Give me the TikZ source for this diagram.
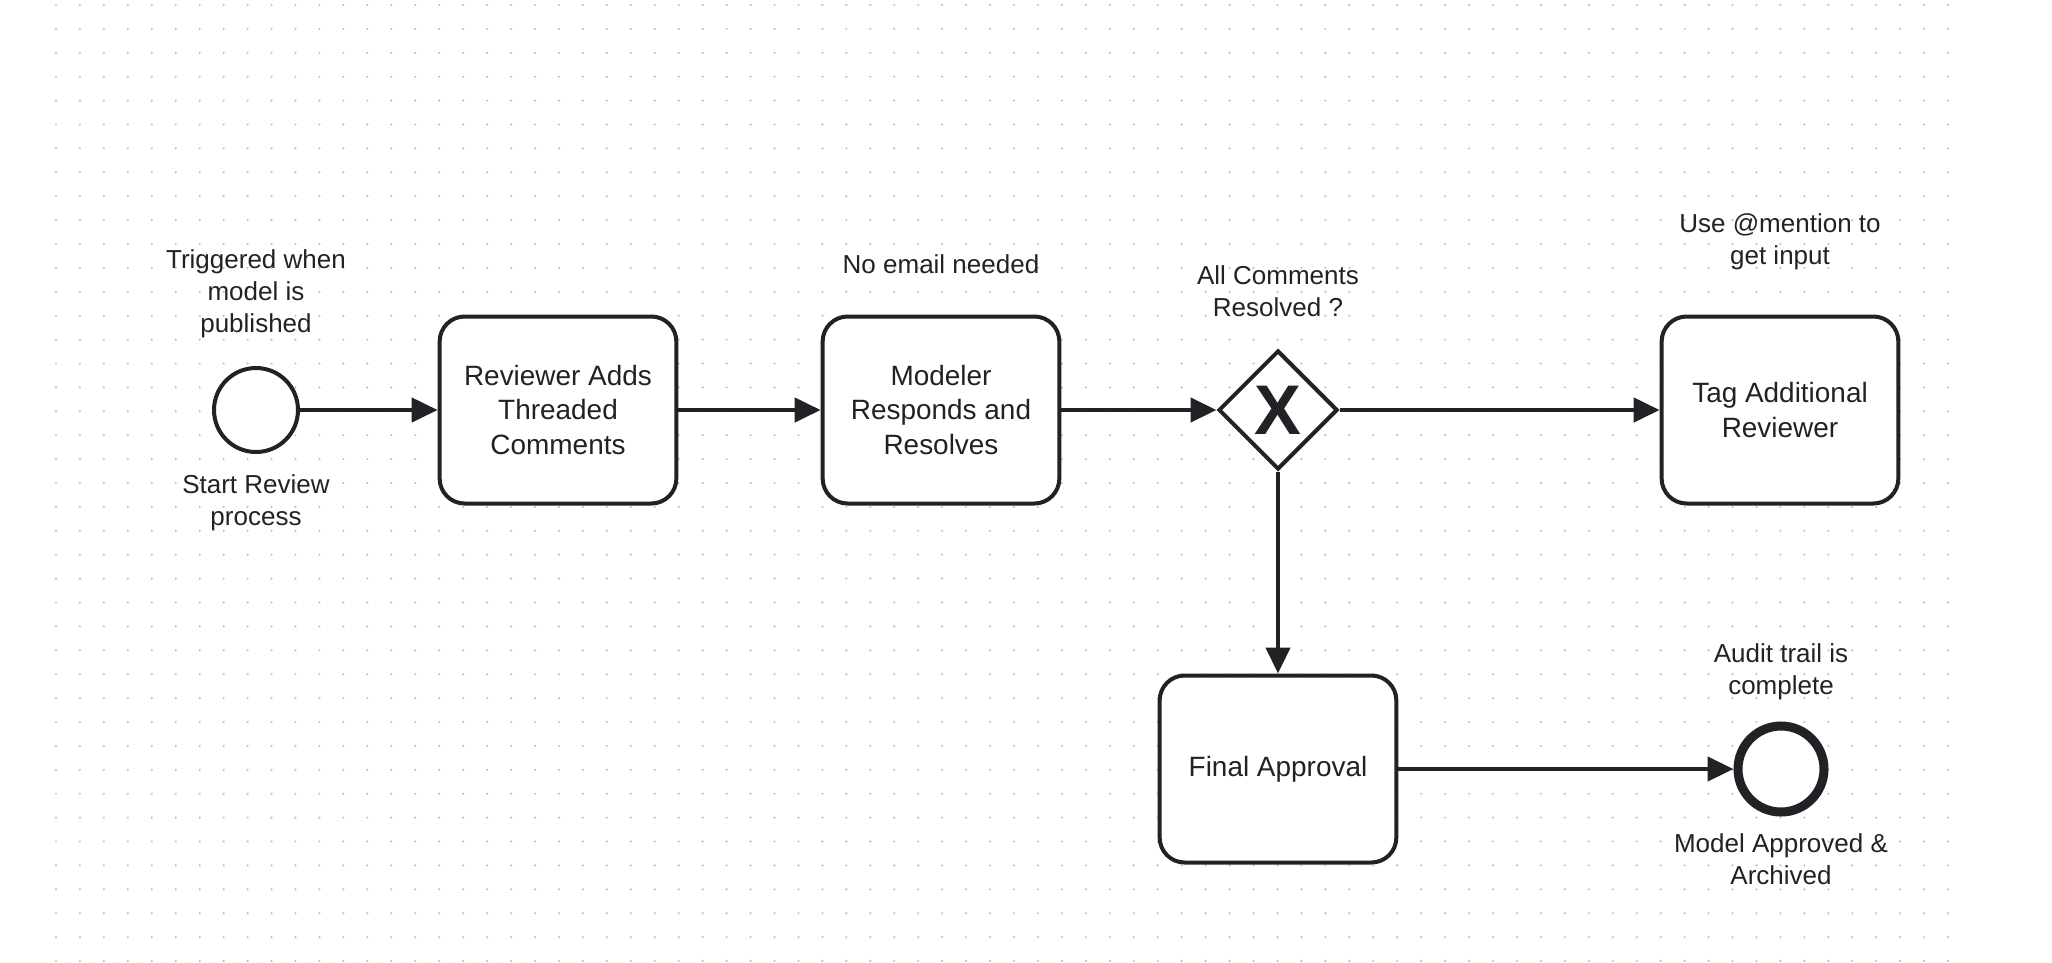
\documentclass[tikz,border=0pt]{standalone}
\usepackage{fontspec}
\setmainfont{Liberation Sans}
\usepackage{tikz}
\usetikzlibrary{shapes.geometric, arrows.meta}
\definecolor{ink}{RGB}{34,34,38}
\definecolor{dotgray}{RGB}{192,192,197}

\begin{document}
\begin{tikzpicture}[node distance=1cm, auto]

\tikzstyle{event} = [circle, minimum size=1.68cm, inner sep=0pt, draw=ink, line width=0.08cm, fill=white]
\tikzstyle{endevent} = [event, minimum size=1.72cm, line width=0.18cm]
\tikzstyle{task} = [rectangle, rounded corners=0.5cm, minimum width=4.72cm, minimum height=3.74cm, text centered, draw=ink, text=ink, line width=0.08cm, fill=white, font=\fontsize{15.9}{19.9}\selectfont]
\tikzstyle{gateway} = [diamond, minimum width=2.38cm, minimum height=2.38cm, inner sep=0pt, draw=ink, text=ink, line width=0.08cm, fill=white, font=\fontsize{40}{40}\selectfont\bfseries]
\tikzstyle{note} = [text centered, text=ink, font=\fontsize{14.8}{18.2}\selectfont]
\tikzstyle{arrow} = [line width=0.09cm, draw=ink, ->, >={Triangle[length=0.52cm, width=0.48cm]}]

\useasboundingbox (0,0) rectangle (41.04,-19.24);
% dotted background
\foreach \i in {0,...,79}
  \foreach \j in {0,...,40}
    \fill [dotgray] (1.12+\i*0.479, -0.1-\j*0.478) circle (0.024);

\node (s) [event] at (5.12,-8.2) {};
\node (rev) [task, right of=s, xshift=5.04cm] {\parbox{4.5cm}{\centering Reviewer Adds\\ Threaded\\ Comments}};
\node (mod) [task, right of=rev, xshift=6.66cm] {\parbox{4.5cm}{\centering Modeler\\ Responds and\\ Resolves}};
\node (dec1) [gateway, right of=mod, xshift=5.74cm] {X};
\node (tag) [task, right of=dec1, xshift=9.04cm] {\parbox{4.5cm}{\centering Tag Additional\\ Reviewer}};
\node (fin) [task, below of=dec1, yshift=-6.18cm] {\parbox{4.5cm}{\centering Final Approval}};
\node (out) [endevent, right of=fin, xshift=9.06cm] {};

\node (s_top) [note, above of=s, yshift=1.32cm] {\parbox{5cm}{\centering Triggered when\\ model is\\ published}};
\node (s_bot) [note, below of=s, yshift=-0.85cm] {\parbox{5cm}{\centering Start Review\\ process}};
\node (mod_top) [note, above of=mod, yshift=1.92cm] {\parbox{5cm}{\centering No email needed}};
\node (dec1_top) [note, above of=dec1, yshift=1.38cm] {\parbox{5cm}{\centering All Comments\\ Resolved ?}};
\node (tag_top) [note, above of=tag, yshift=2.36cm] {\parbox{5cm}{\centering Use @mention to\\ get input}};
\node (out_top) [note, above of=out, yshift=0.95cm] {\parbox{5cm}{\centering Audit trail is\\ complete}};
\node (out_bot) [note, below of=out, yshift=-0.8cm] {\parbox{5cm}{\centering Model Approved \&\\ Archived}};

\draw [arrow] (s) -- (rev);
\draw [arrow] (rev) -- (mod);
\draw [arrow] (mod) -- (dec1);
\draw [arrow] (dec1) -- (tag);
\draw [arrow] (dec1) -- (fin);
\draw [arrow] (fin) -- (out);
\end{tikzpicture}
\end{document}
